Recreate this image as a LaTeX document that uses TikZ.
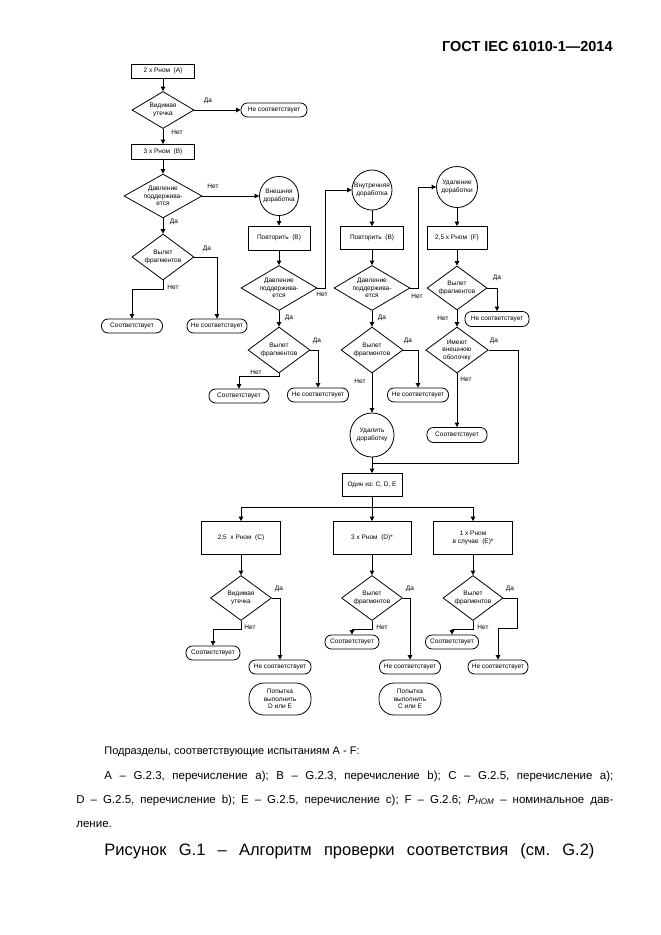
\documentclass[tikz,border=0pt]{standalone}
\usepackage{fontspec}
\setmainfont{Liberation Sans}
\usetikzlibrary{shapes.geometric,arrows.meta}

\tikzset{
  proc/.style={draw, rectangle, line width=0.8pt, inner sep=1pt, align=center},
  dec/.style={draw, diamond, line width=0.8pt, inner sep=0pt, aspect=1.6, align=center},
  term/.style={draw, rectangle, rounded corners=6.5pt, line width=0.8pt, inner xsep=0pt,
    minimum height=14pt, align=center},
  try/.style={draw, rectangle, rounded corners=15pt, line width=0.8pt, inner xsep=0pt, align=center},
  rework/.style={draw, circle, line width=0.8pt, inner sep=0pt, align=center},
  lbl/.style={inner sep=0pt},
  arr/.style={-{Triangle[width=4.5pt,length=4.5pt]}},
}
\frenchspacing

\begin{document}
\begin{tikzpicture}[x=1pt, y=-1pt, line width=0.8pt,
    font=\fontsize{6.5}{7.5}\selectfont]
  \useasboundingbox (0,0) rectangle (661,935);

  \node[anchor=east, inner sep=0pt, font=\bfseries\fontsize{14.5}{17}\selectfont] (hdr) at (613,47) {ГОСТ IEC 61010-1—2014};

  % test A and B
  \node[proc, minimum width=63pt, minimum height=14pt] (pA) at (163,71) {2 x Рном~~(A)};
  \node[dec, minimum width=62pt, minimum height=37pt] (leakA) at (163,110) {Видимая\\утечка};
  \node[term, minimum width=66pt] (failA) at (274,110) {Не соответствует};
  \node[proc, minimum width=63pt, minimum height=15pt] (pB) at (163,152) {3 x Рном~~(B)};
  \node[dec, minimum width=78pt, minimum height=42pt] (holdB) at (163,196) {Давление\\поддержива-\\ется};
  \node[dec, minimum width=62pt, minimum height=46pt] (fragB) at (163,257) {Вылет\\фрагментов};
  \node[term, minimum width=61pt] (passB) at (132,326) {Соответствует};
  \node[term, minimum width=60pt] (failB) at (217,326) {Не соответствует};

  \node[lbl] (yA) at (208,101) {Да};
  \node[lbl] (nA) at (177,132) {Нет};
  \node[lbl] (nB1) at (213,186) {Нет};
  \node[lbl] (yB1) at (174,222) {Да};
  \node[lbl] (yB2) at (207,249) {Да};
  \node[lbl] (nB2) at (173,287) {Нет};

  % outer rework
  \node[rework, minimum size=39pt] (outerR) at (279,196) {Внешняя\\доработка};
  \node[proc, minimum width=62pt, minimum height=24pt] (rptO) at (279,238) {Повторить~~(B)};
  \node[dec, minimum width=76pt, minimum height=45pt] (holdO) at (279,288) {Давление\\поддержива-\\ется};
  \node[dec, minimum width=62pt, minimum height=46pt] (fragO) at (279,350) {Вылет\\фрагментов};
  \node[term, minimum width=60pt] (passO) at (239,396) {Соответствует};
  \node[term, minimum width=61pt] (failO) at (318,395) {Не соответствует};

  \node[lbl] (nO1) at (322,294) {Нет};
  \node[lbl] (yO1) at (289,318) {Да};
  \node[lbl] (yO2) at (317,341) {Да};
  \node[lbl] (nO2) at (256,372) {Нет};

  % inner rework
  \node[rework, minimum size=40pt] (innerR) at (372,190) {Внутренняя\\доработка};
  \node[proc, minimum width=63pt, minimum height=23pt] (rptI) at (372,238) {Повторить~~(B)};
  \node[dec, minimum width=76pt, minimum height=45pt] (holdI) at (372,288) {Давление\\поддержива-\\ется};
  \node[dec, minimum width=62pt, minimum height=46pt] (fragI) at (372,350) {Вылет\\фрагментов};
  \node[term, minimum width=61pt] (failI) at (418,395) {Не соответствует};
  \node[rework, minimum size=44pt] (remove) at (372,435) {Удалить\\доработку};

  \node[lbl] (nI1) at (417,296) {Нет};
  \node[lbl] (yI1) at (382,318) {Да};
  \node[lbl] (yI2) at (408,341) {Да};
  \node[lbl] (nI2) at (360,381) {Нет};

  % removed rework, test F
  \node[rework, minimum size=41pt] (removeR) at (457,187) {Удаление\\доработки};
  \node[proc, minimum width=60pt, minimum height=23pt] (pF) at (457,238) {2,5 x Рном~~(F)};
  \node[dec, minimum width=60pt, minimum height=44pt] (fragF) at (457,288) {Вылет\\фрагментов};
  \node[term, minimum width=64pt, minimum height=15pt] (failF) at (497,319) {Не соответствует};
  \node[dec, minimum width=60pt, minimum height=46pt] (shell) at (457,350) {Имеют\\внешнюю\\оболочку};
  \node[term, minimum width=60pt, minimum height=15pt] (passF) at (457,435) {Соответствует};

  \node[lbl] (yF1) at (497,278) {Да};
  \node[lbl] (nF1) at (443,318) {Нет};
  \node[lbl] (yF2) at (494,341) {Да};
  \node[lbl] (nF2) at (466,379) {Нет};

  % tests C, D, E
  \coordinate (join) at (372,463);
  \node[proc, minimum width=60pt, minimum height=23pt] (oneOf) at (372,485) {Один из: C, D, E};
  \coordinate (split) at (372,507);

  \node[proc, minimum width=79pt, minimum height=33pt] (pC) at (241,538) {2,5~~x Рном~~(C)};
  \node[proc, minimum width=78pt, minimum height=33pt] (pD) at (372,538) {3 x Рном~~(D)*};
  \node[proc, minimum width=79pt, minimum height=33pt] (pE) at (473,538) {1 x Рном\\в случае~~(E)*};
  \node[dec, minimum width=61pt, minimum height=45pt] (leakC) at (241,598) {Видимая\\утечка};
  \node[dec, minimum width=61pt, minimum height=45pt] (fragD) at (372,598) {Вылет\\фрагментов};
  \node[dec, minimum width=60pt, minimum height=45pt] (fragE) at (473,598) {Вылет\\фрагментов};
  \node[term, minimum width=54pt] (passC) at (213,653) {Соответствует};
  \node[term, minimum width=62pt] (failC) at (280,667) {Не соответствует};
  \node[try, minimum width=62pt, minimum height=32pt] (tryC) at (280,699) {Попытка\\выполнить\\D или E};
  \node[term, minimum width=54pt] (passD) at (352,642) {Соответствует};
  \node[term, minimum width=61pt] (failD) at (410,667) {Не соответствует};
  \node[try, minimum width=62pt, minimum height=32pt] (tryD) at (410,699) {Попытка\\выполнить\\C или E};
  \node[term, minimum width=53pt] (passE) at (452,642) {Соответствует};
  \node[term, minimum width=60pt] (failE) at (498,667) {Не соответствует};

  \node[lbl] (yC) at (279,589) {Да};
  \node[lbl] (nC) at (250,627) {Нет};
  \node[lbl] (yD) at (410,589) {Да};
  \node[lbl] (nD) at (382,627) {Нет};
  \node[lbl] (yE) at (510,589) {Да};
  \node[lbl] (nE) at (483,627) {Нет};

  % connectors
  \draw[arr] (pA) -- (leakA);
  \draw[arr] (leakA) -- (failA);
  \draw[arr] (leakA) -- (pB);
  \draw[arr] (pB) -- (holdB);
  \draw[arr] (holdB) -- (outerR);
  \draw[arr] (holdB) -- (fragB);
  \draw[arr] (fragB.east) -| (failB.north);
  \draw[arr] (fragB.south) -- ++(0,9) -| (passB.north);

  \draw[arr] (outerR) -- (rptO);
  \draw[arr] (rptO) -- (holdO);
  \draw[arr] (holdO.east) -- ++(8,0) |- (innerR.west);
  \draw[arr] (holdO) -- (fragO);
  \draw[arr] (fragO.east) -| (failO.north);
  \draw[arr] (fragO.south) -- ++(0,3) -| (passO.north);

  \draw[arr] (innerR) -- (rptI);
  \draw[arr] (rptI) -- (holdI);
  \draw[arr] (holdI.east) -- ++(8,0) |- (removeR.west);
  \draw[arr] (holdI) -- (fragI);
  \draw[arr] (fragI.east) -| (failI.north);
  \draw[arr] (fragI) -- (remove);

  \draw[arr] (removeR) -- (pF);
  \draw[arr] (pF) -- (fragF);
  \draw[arr] (fragF.east) -| (failF.north);
  \draw[arr] (fragF) -- (shell);
  \draw[arr] (shell) -- (passF);
  \draw (shell.east) -- ++(30,0) |- (join);

  \draw[arr] (remove) -- (oneOf);
  \draw (oneOf) -- (split);
  \draw[arr] (split) -| (pC.north);
  \draw[arr] (split) -- (pD);
  \draw[arr] (split) -| (pE.north);
  \draw[arr] (pC) -- (leakC);
  \draw[arr] (pD) -- (fragD);
  \draw[arr] (pE) -- (fragE);
  \draw[arr] (leakC.east) -| (failC.north);
  \draw[arr] (leakC.south) -- ++(0,8) -| (passC.north);
  \draw[arr] (fragD.east) -| (failD.north);
  \draw[arr] (fragD.south) -- ++(0,8) -| (passD.north);
  \draw[arr] (fragE.east) -- ++(14,0) -- ++(0,30) -| (failE.north);
  \draw[arr] (fragE.south) -- ++(0,8) -| (passE.north);

  % notes below the chart
  \node[anchor=base west, inner sep=0pt, font=\fontsize{11}{13}\selectfont] (note0) at (104,754)
    {Подразделы, соответствующие испытаниям A - F:};
  \node[anchor=base west, inner sep=0pt, font=\fontsize{11.5}{13}\selectfont] (note1) at (104,779)
    {\makebox[509pt][s]{A – G.2.3, перечисление a); B – G.2.3, перечисление b); C – G.2.5, перечисление a);}};
  \node[anchor=base west, inner sep=0pt, font=\fontsize{11.5}{13}\selectfont] (note2) at (76,803)
    {\makebox[537pt][s]{D – G.2.5, перечисление b); E – G.2.5, перечисление c); F – G.2.6; \textit{P\textsubscript{НОМ}} – номинальное дав-}};
  \node[anchor=base west, inner sep=0pt, font=\fontsize{11.5}{13}\selectfont] (note3) at (76,827) {ление.};
  \node[anchor=base west, inner sep=0pt, font=\fontsize{16.5}{19}\selectfont] (cap) at (104,855)
    {\makebox[490pt][s]{Рисунок G.1 – Алгоритм проверки соответствия (см. G.2)}};
\end{tikzpicture}
\end{document}
